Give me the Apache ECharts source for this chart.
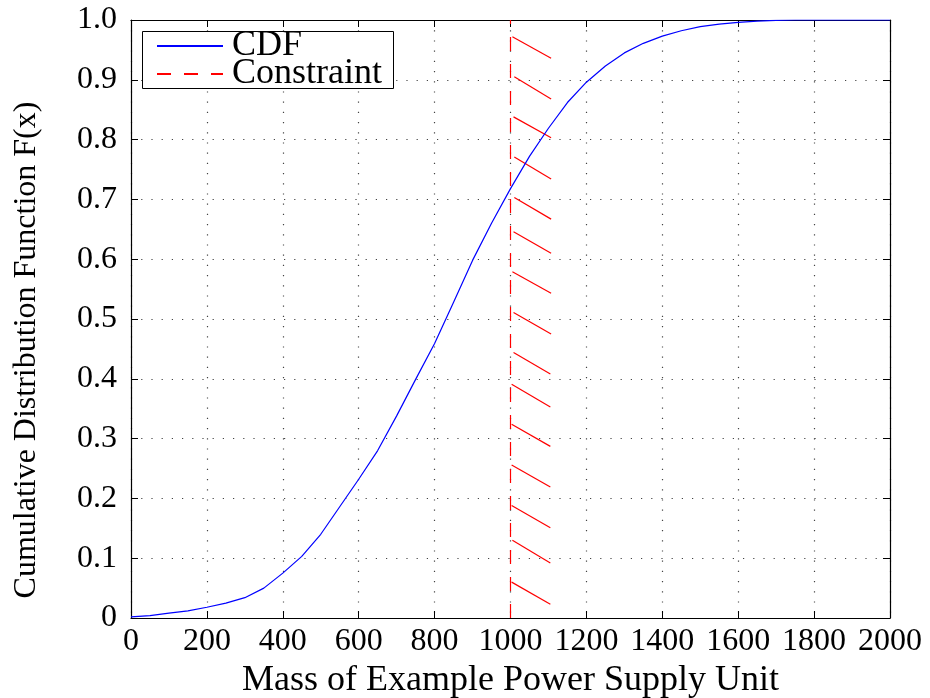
<!DOCTYPE html>
<html>
<head>
<meta charset="utf-8">
<script src="https://cdn.jsdelivr.net/npm/echarts@6/dist/echarts.min.js"></script>
<style>
html,body{margin:0;padding:0;background:#fff;}
#chart{width:930px;height:698px;}
</style>
</head>
<body>
<div id="chart"></div>
<script>
// Data
const massValues = [0,50,100,150,200,250,300,350,400,450,500,550,600,650,700,750,800,850,900,950,1000,1050,1100,1150,1200,1250,1300,1350,1400,1450,1500,1550,1600,1650,1700,1750,1800,1850,1900,1950,2000];
const cdfValues = [0.002,0.004,0.008,0.012,0.018,0.025,0.034,0.050,0.075,0.103,0.140,0.186,0.232,0.280,0.338,0.399,0.459,0.528,0.598,0.660,0.718,0.772,0.819,0.862,0.896,0.923,0.945,0.961,0.973,0.982,0.989,0.993,0.996,0.998,0.9995,1.0,1.0,1.0,1.0,1.0,1.0];
const constraintX = 1000;
const hatchStartX = [1005,1010,1008,1010,1010,1008,1005,1008,1008,1003,1003,1003,1003,1005,1003];
const hatchStartY = [0.972,0.905,0.838,0.771,0.703,0.646,0.579,0.511,0.444,0.391,0.324,0.256,0.188,0.130,0.060];
const hatchEndX   = [1107,1107,1107,1107,1107,1107,1107,1107,1105,1105,1105,1105,1105,1105,1105];
const hatchEndY   = [0.936,0.868,0.803,0.734,0.667,0.610,0.543,0.475,0.408,0.353,0.287,0.219,0.151,0.092,0.023];
const xTicks = {min:0, max:2000, interval:200};
const yTicks = {min:0, max:1, interval:0.1};
const xTitle = 'Mass of Example Power Supply Unit';
const yTitle = 'Cumulative Distribution Function F(x)';
const legendNames = ['CDF','Constraint'];

const FONT = '"Liberation Serif", "Times New Roman", serif';
const chart = echarts.init(document.getElementById('chart'), null, {renderer:'canvas'});

const axisCommon = {
  axisLine:{show:true, onZero:false, lineStyle:{color:'#000', width:1.2}},
  axisTick:{show:true, inside:true, length:7, lineStyle:{color:'#000', width:1}},
};

const option = {
  backgroundColor:'#fff',
  animation:false,
  grid:{left:131, right:40, top:20, bottom:80, containLabel:false, outerBoundsMode:'none'},
  graphic:{
    z:3,
    elements:[{
      type:'rect', left:142, top:31, z:3,
      shape:{width:251, height:57},
      style:{fill:'#fff', stroke:'#000', lineWidth:1}
    }]
  },
  legend:{
    show:true, orient:'vertical', left:142, top:28, z:5,
    data:legendNames,
    itemWidth:66, itemHeight:14, itemGap:-8,
    itemStyle:{opacity:0},
    padding:[0,12,0,14],
    textStyle:{fontFamily:FONT, fontSize:36, color:'#000', padding:[0,0,0,4]}
  },
  xAxis:[
    Object.assign({
      type:'value', position:'bottom', min:xTicks.min, max:xTicks.max, interval:xTicks.interval,
      name:xTitle, nameLocation:'middle', nameGap:44,
      nameTextStyle:{fontFamily:FONT, fontSize:36, color:'#000'},
      axisLabel:{fontFamily:FONT, fontSize:32, color:'#000', margin:8,
        formatter:function(v){ return String(v); }},
      splitLine:{show:true, lineStyle:{color:'#444', type:[1.2,9], width:1.2}}
    }, axisCommon),
    Object.assign({
      type:'value', position:'top', min:xTicks.min, max:xTicks.max, interval:xTicks.interval,
      axisLabel:{show:false}, splitLine:{show:false}
    }, axisCommon)
  ],
  yAxis:[
    Object.assign({
      type:'value', position:'left', min:yTicks.min, max:yTicks.max, interval:yTicks.interval,
      name:yTitle, nameLocation:'middle', nameGap:88, nameRotate:90,
      nameTextStyle:{fontFamily:FONT, fontSize:32, color:'#000', padding:[0,62,0,0]},
      axisLabel:{fontFamily:FONT, fontSize:32, color:'#000', margin:14,
        formatter:function(v){ return v===0 ? '0' : v.toFixed(1); }},
      splitLine:{show:true, lineStyle:{color:'#444', type:[1.2,9], width:1.2}}
    }, axisCommon),
    Object.assign({
      type:'value', position:'right', min:yTicks.min, max:yTicks.max, interval:yTicks.interval,
      axisLabel:{show:false}, splitLine:{show:false}
    }, axisCommon)
  ],
  series:[
    {
      name:legendNames[0], type:'line', xAxisIndex:0, yAxisIndex:0,
      data:massValues.map((x,i)=>[x,cdfValues[i]]),
      symbol:'none', smooth:false,
      lineStyle:{color:'#0000ff', width:1.2}, itemStyle:{color:'#0000ff'}, z:2
    },
    {
      name:legendNames[1], type:'line', xAxisIndex:0, yAxisIndex:0,
      data:[[constraintX,yTicks.min],[constraintX,yTicks.max]],
      symbol:'none',
      lineStyle:{color:'#ff0000', width:1.2, type:[14,13]}, itemStyle:{color:'#ff0000'}, z:2
    },
    {
      name:'hatch', type:'lines', coordinateSystem:'cartesian2d', xAxisIndex:0, yAxisIndex:0,
      data:hatchStartX.map((x,i)=>({coords:[[x,hatchStartY[i]],[hatchEndX[i],hatchEndY[i]]]})),
      lineStyle:{color:'#ff0000', width:1.2, opacity:1}, z:2, silent:true
    }
  ]
};
chart.setOption(option);
</script>
</body>
</html>
